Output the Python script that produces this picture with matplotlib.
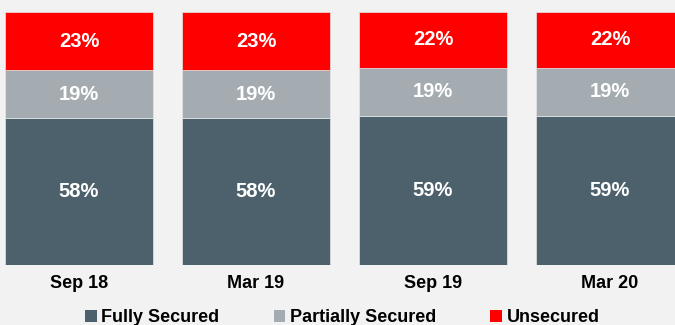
import matplotlib.pyplot as plt
from matplotlib.patches import Patch

plt.rcParams['font.family'] = ['Liberation Sans', 'DejaVu Sans']

periods = ['Sep 18', 'Mar 19', 'Sep 19', 'Mar 20']
fully = [58, 58, 59, 59]
partial = [19, 19, 19, 19]
unsecured = [23, 23, 22, 22]

series = ['Fully Secured', 'Partially Secured', 'Unsecured']
colors = ['#4d616c', '#a5acb1', '#ff0000']
bg = '#f2f2f2'

fig = plt.figure(figsize=(6.75, 3.25), dpi=100, facecolor=bg)
ax = fig.add_axes([0, 0.1846, 1, 0.7785])
ax.set_facecolor(bg)

x = range(len(periods))
w = 0.836
bottom = [0] * len(periods)
for vals, col in zip([fully, partial, unsecured], colors):
    bars = ax.bar(x, vals, w, bottom=bottom, color=col, edgecolor='#e4e6e8', linewidth=0.5)
    for b, v, b0 in zip(bars, vals, bottom):
        ax.text(b.get_x() + b.get_width() / 2, b0 + v / 2, f'{v}%', ha='center', va='center',
                color='white', fontsize=14.5, fontweight='bold')
    bottom = [a + b for a, b in zip(bottom, vals)]

ax.set_xlim(-0.446, 3.367)
ax.set_ylim(0, 100)
ax.set_xticks(list(x))
ax.set_xticklabels(periods, fontsize=13, fontweight='bold')
ax.tick_params(axis='x', length=0, pad=7)
ax.set_yticks([])
for s in ax.spines.values():
    s.set_visible(False)

handles = [Patch(facecolor=c, edgecolor='none') for c in colors]
fig.legend(handles, series, loc='center', bbox_to_anchor=(0.507, 0.022), ncol=3, frameon=False,
           prop={'size': 13, 'weight': 'bold'}, handlelength=0.65, handleheight=0.65,
           handletextpad=0.25, columnspacing=3.0, borderaxespad=0, borderpad=0)

fig.savefig('out.png', dpi=100, facecolor=bg)
